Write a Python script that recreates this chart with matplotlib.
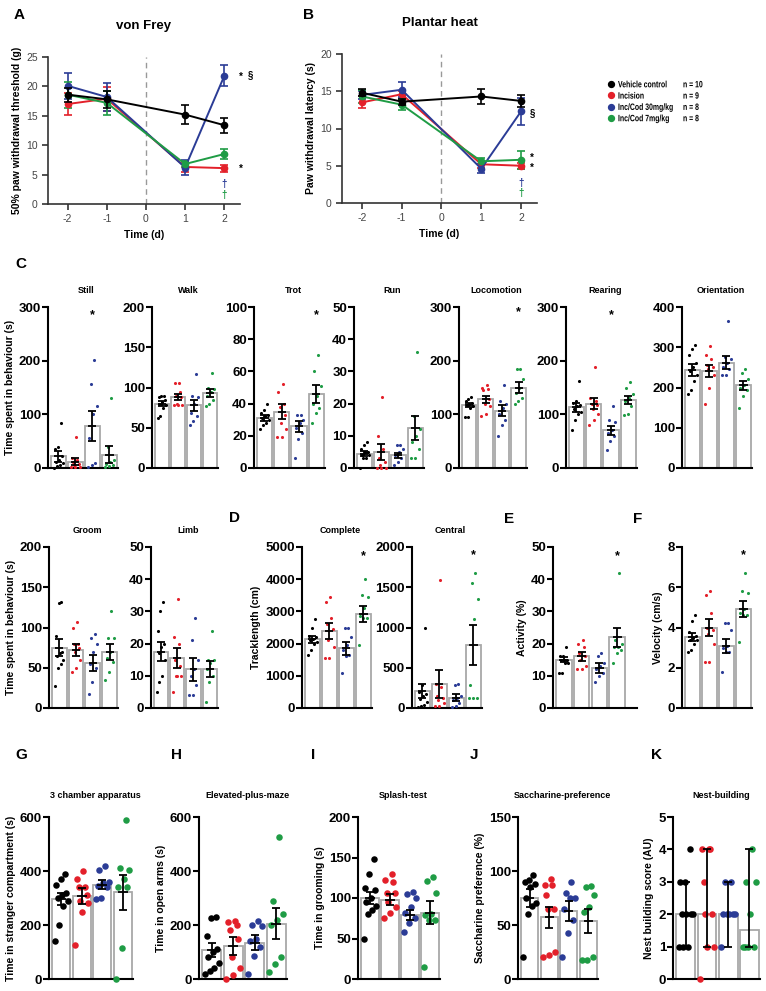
import numpy as np
import matplotlib
matplotlib.use("Agg")
import matplotlib.pyplot as plt
from matplotlib.font_manager import FontProperties
from matplotlib.textpath import TextPath
from matplotlib.patches import PathPatch
from matplotlib.transforms import Affine2D

plt.rcParams['font.family'] = ['Liberation Sans', 'DejaVu Sans']
plt.rcParams['axes.unicode_minus'] = False

W, H = 766, 991

# groups
groups = ['Vehicle control', 'Incision', 'Inc/Cod 30mg/kg', 'Inc/Cod 7mg/kg']
group_n = ['n = 10', 'n = 9', 'n = 8', 'n = 8']
colors = ['#000000', '#e3202a', '#2b3c96', '#1f9c45']

# A / B time courses
days = [-2, -1, 1, 2]
vf_mean = [[18.6, 17.8, 15.2, 13.4], [17.0, 17.9, 6.3, 6.1],
           [20.1, 18.2, 6.2, 21.8], [18.6, 17.2, 6.8, 8.5]]
vf_sem = [[1.2, 1.5, 1.6, 1.3], [1.8, 2.0, 0.8, 0.6],
          [2.2, 2.4, 1.2, 1.8], [2.2, 2.0, 0.5, 0.9]]
ph_mean = [[14.8, 13.6, 14.3, 13.7], [13.5, 14.6, 5.2, 5.0],
           [14.5, 15.2, 4.6, 12.3], [14.3, 13.2, 5.6, 5.8]]
ph_sem = [[0.5, 0.4, 1.0, 0.8], [0.8, 0.5, 0.5, 0.4],
          [0.6, 1.0, 0.6, 1.8], [0.9, 0.7, 0.5, 1.2]]

# C: time spent in behaviour
still_pts = [[83, 40, 35, 22, 15, 12, 10, 5, 3, 0], [57, 18, 15, 12, 8, 5, 2, 2, 2],
             [202, 157, 115, 100, 55, 10, 5, 2], [130, 40, 15, 12, 8, 5, 3, 2]]
still_mean = [22, 12, 79, 25]
still_sem = [10, 7, 28, 16]

walk_pts = [[90, 90, 88, 85, 82, 80, 78, 75, 65, 62], [105, 105, 95, 90, 88, 80, 78, 78, 78],
            [117, 90, 88, 80, 68, 65, 58, 53], [118, 100, 98, 95, 90, 85, 80, 77]]
walk_mean = [80, 88, 78, 93]
walk_sem = [3.5, 4, 7, 5]

trot_pts = [[40, 36, 34, 33, 32, 31, 30, 28, 27, 24], [52, 47, 40, 38, 33, 28, 24, 19, 19],
            [33, 33, 30, 28, 25, 22, 18, 6], [70, 60, 51, 45, 40, 37, 34, 28]]
trot_mean = [31, 35, 26, 46]
trot_sem = [1.8, 4.5, 3.5, 5.5]

run_pts = [[8, 7, 6, 5, 5, 4, 4, 3, 3, 0], [22, 10, 6, 3, 2, 1, 0, 0, 0],
           [7, 7, 6, 5, 4, 3, 2, 1], [36, 16, 12, 10, 8, 6, 3, 3]]
run_mean = [4.5, 5, 4, 12.5]
run_sem = [0.7, 2.5, 0.8, 3.8]

loco_pts = [[132, 128, 125, 122, 120, 118, 115, 112, 95, 95], [150, 148, 155, 145, 128, 120, 115, 100, 97],
            [155, 125, 120, 112, 100, 90, 80, 60], [185, 185, 165, 150, 140, 130, 125, 120]]
loco_mean = [117, 128, 107, 150]
loco_sem = [4, 7, 10, 10]

rear_pts = [[162, 125, 122, 118, 115, 110, 105, 100, 90, 70], [188, 130, 125, 120, 118, 110, 100, 90, 80],
            [115, 90, 85, 70, 65, 60, 50, 33], [160, 150, 138, 130, 125, 115, 100, 98]]
rear_mean = [113, 120, 70, 127]
rear_sem = [8, 10, 8, 8]

orient_pts = [[305, 295, 280, 260, 250, 240, 230, 215, 195, 185], [302, 280, 270, 255, 250, 245, 230, 200, 160],
              [365, 275, 270, 260, 250, 245, 230, 230], [245, 235, 220, 205, 200, 195, 180, 150]]
orient_mean = [243, 240, 262, 205]
orient_sem = [15, 15, 17, 10]

groom_pts = [[132, 130, 90, 70, 68, 65, 60, 55, 50, 27], [107, 100, 80, 80, 75, 70, 60, 50, 45],
             [92, 87, 80, 70, 55, 50, 32, 17], [121, 87, 87, 70, 62, 57, 45, 35]]
groom_mean = [75, 72, 56, 70]
groom_sem = [11, 8, 10, 10]

limb_pts = [[33, 30, 24, 20, 19, 17, 15, 10, 8, 5], [34, 22, 20, 15, 13, 10, 10, 10, 5],
            [28, 21, 15, 12, 10, 7, 4, 4], [24, 15, 15, 14, 12, 10, 8, 2]]
limb_mean = [17.5, 15.5, 12, 12]
limb_sem = [3, 3, 3.5, 2.5]

# D: tracklength
complete_pts = [[2750, 2500, 2250, 2200, 2150, 2100, 2050, 2000, 1800, 1650],
                [3450, 3300, 2800, 2600, 2450, 2100, 1900, 1550, 1550],
                [2500, 2500, 2200, 1950, 1800, 1650, 1600, 1100],
                [4000, 3500, 3450, 3100, 2850, 2800, 2800, 1950]]
complete_mean = [2130, 2390, 1850, 2930]
complete_sem = [120, 250, 200, 250]

central_pts = [[990, 280, 200, 180, 150, 110, 80, 40, 20, 10], [1590, 300, 260, 150, 120, 100, 60, 30, 20],
               [300, 280, 150, 120, 100, 60, 20, 10], [1680, 1550, 1350, 1100, 280, 130, 120, 120]]
central_mean = [210, 300, 130, 780]
central_sem = [90, 170, 40, 250]

# E, F
activity_pts = [[19, 16, 16, 15, 15, 15, 14, 14, 11, 11], [21, 20, 19, 17, 16, 15, 13, 12, 12],
                [17, 16, 14, 13, 12, 11, 10, 8], [42, 21, 20, 19, 19, 18, 17, 14]]
activity_mean = [15, 16, 12.5, 22]
activity_sem = [0.8, 1.5, 1.5, 3]

velocity_pts = [[4.6, 4.3, 3.8, 3.6, 3.5, 3.4, 3.4, 3.2, 2.9, 2.8], [5.8, 5.6, 4.7, 4.0, 3.9, 3.7, 3.2, 2.3, 2.3],
                [4.2, 4.2, 3.9, 3.1, 3.0, 2.8, 2.8, 1.8], [6.7, 5.8, 5.7, 4.9, 4.7, 4.6, 4.6, 3.3]]
velocity_mean = [3.55, 4.0, 3.1, 4.9]
velocity_sem = [0.2, 0.4, 0.35, 0.4]

# G - K
cham_pts = [[390, 370, 350, 320, 310, 300, 290, 270, 200, 140], [400, 370, 340, 340, 310, 290, 280, 250, 125],
            [420, 405, 360, 355, 345, 340, 300, 295], [590, 410, 405, 370, 340, 340, 115, 0]]
cham_mean = [295, 307, 350, 322]
cham_sem = [22, 30, 18, 65]

epm_pts = [[230, 225, 160, 110, 100, 80, 60, 40, 30, 20], [215, 210, 200, 180, 150, 80, 40, 15, 0],
           [215, 200, 195, 150, 140, 120, 85, 20], [525, 290, 240, 220, 200, 80, 55, 25]]
epm_mean = [108, 122, 135, 205]
epm_sem = [25, 32, 28, 58]

splash_pts = [[148, 130, 112, 110, 100, 95, 90, 85, 80, 50], [130, 122, 120, 106, 106, 95, 89, 81, 75],
              [107, 105, 100, 89, 81, 75, 69, 58], [126, 121, 106, 80, 79, 73, 73, 15]]
splash_mean = [100, 98, 79, 82]
splash_sem = [8, 7, 6.5, 14]

sacc_pts = [[96, 92, 90, 88, 85, 75, 70, 68, 60, 20], [93, 87, 87, 78, 65, 65, 25, 22, 20],
            [90, 80, 75, 75, 65, 55, 43, 20], [86, 85, 78, 67, 62, 20, 18, 18]]
sacc_mean = [75, 57, 63, 54]
sacc_sem = [8, 10, 9, 11]

nest_pts = [[4, 3, 3, 2, 2, 2, 2, 1, 1, 1], [4, 4, 4, 3, 2, 2, 1, 1, 0],
            [3, 3, 2, 2, 2, 2, 2, 1], [4, 3, 3, 2, 1, 1, 1, 1]]
nest_median = [2, 2, 2, 1.5]
nest_lo = [1, 1, 1, 1]
nest_hi = [3, 4, 3, 4]


def px(l, t, r, b):
    return [l / W, 1 - b / H, (r - l) / W, (b - t) / H]


def letter(x, y, s):
    fig.text(x / W, 1 - y / H, s, fontsize=11, fontweight='bold', ha='left', va='center')


def offsets(vals, half):
    n = len(vals)
    k = 3 if np.gcd(3, n) == 1 else 4
    slots = np.linspace(-half, half, n)
    order = np.argsort(vals)
    off = np.zeros(n)
    for i, j in enumerate(order):
        off[j] = slots[(i * k) % n]
    return off


def bar_panel(rect, title, pts, mean, sem, ymax, step, ylabel=None, star=None,
              big=False, xmax=3.5, lo=None, hi=None):
    ax = fig.add_axes(px(*rect))
    x = np.arange(4)
    ax.bar(x, mean, width=0.88, facecolor='white', edgecolor='#a8a8a8', linewidth=1.3, zorder=1)
    for i in range(4):
        v = np.array(pts[i], dtype=float)
        off = offsets(v, 0.32 if big else 0.25)
        ax.scatter(x[i] + off, v, s=22 if big else 5, color=colors[i], zorder=3,
                   linewidths=0, clip_on=False)
    if lo is None:
        ax.errorbar(x, mean, yerr=sem, fmt='none', ecolor='k', elinewidth=1.3,
                    capsize=3, capthick=1.3, zorder=4)
        ax.hlines(mean, x - 0.24, x + 0.24, color='k', lw=1.3, zorder=4)
    else:
        yerr = [np.array(mean) - np.array(lo), np.array(hi) - np.array(mean)]
        ax.errorbar(x, mean, yerr=yerr, fmt='none', ecolor='k', elinewidth=1.3,
                    capsize=3, capthick=1.3, zorder=4)
    ax.set_xlim(-0.6, xmax)
    ax.set_ylim(0, ymax)
    ax.set_yticks(np.arange(0, ymax + step / 2, step))
    ax.set_xticks([])
    for s in ['top', 'right']:
        ax.spines[s].set_visible(False)
    for s in ['left', 'bottom']:
        ax.spines[s].set_linewidth(1.5)
    ax.tick_params(axis='y', length=4, width=1.5, labelsize=9.5, pad=1)
    for lab in ax.get_yticklabels():
        lab.set_fontweight('bold')
    ax.set_title(title, fontsize=6.5, fontweight='bold', pad=10 if not big else 14, x=0.55)
    if ylabel:
        ax.set_ylabel(ylabel, fontsize=7.5, fontweight='bold', labelpad=3)
    if star is not None:
        ax.text(star[0], star[1], '*', ha='center', va='center', fontsize=9, fontweight='bold')
    return ax


def time_panel(rect, title, mean, sem, ymax, step, ylabel):
    ax = fig.add_axes(px(*rect))
    ax.axvline(0, color='#999999', lw=1, ls=(0, (4, 3)), zorder=0)
    for i in range(4):
        ax.errorbar(days, mean[i], yerr=sem[i], color=colors[i], marker='o', ms=4.5,
                    lw=1.4, capsize=3, capthick=1.2, elinewidth=1.2, zorder=3 + (i == 0))
    ax.set_xlim(-2.5, 2.4)
    ax.set_ylim(0, ymax)
    ax.set_xticks([-2, -1, 0, 1, 2])
    ax.set_yticks(np.arange(0, ymax + 1, step))
    for s in ['top', 'right']:
        ax.spines[s].set_visible(False)
    for s in ['left', 'bottom']:
        ax.spines[s].set_linewidth(1.2)
        ax.spines[s].set_color('#333333')
    ax.tick_params(length=4, width=1.2, color='#333333', labelsize=7.5, labelcolor='#444444')
    ax.set_xlabel('Time (d)', fontsize=7.5, fontweight='bold', labelpad=4)
    ax.set_ylabel(ylabel, fontsize=7.5, fontweight='bold', labelpad=3)
    ax.set_title(title, fontsize=9.5, fontweight='bold', pad=20)
    return ax


fig = plt.figure(figsize=(W / 100, H / 100), dpi=100)

# A
axA = time_panel((48, 57, 240, 204), 'von Frey', vf_mean, vf_sem, 25, 5,
                 '50% paw withdrawal threshold (g)')
axA.text(2.36, 21.6, '*', fontsize=7, fontweight='bold', va='center', clip_on=False)
axA.text(2.6, 21.9, '§', fontsize=7, fontweight='bold', va='center', clip_on=False)
axA.text(2.36, 5.9, '*', fontsize=7, fontweight='bold', va='center', clip_on=False)
axA.text(2, 3.4, '†', fontsize=7, fontweight='bold', color=colors[2], ha='center', va='center')
axA.text(2, 1.6, '†', fontsize=7, fontweight='bold', color=colors[3], ha='center', va='center')

# B
axB = time_panel((342, 54, 537, 203), 'Plantar heat', ph_mean, ph_sem, 20, 5,
                 'Paw withdrawal latency (s)')
axB.text(2.22, 12.1, '§', fontsize=7, fontweight='bold', va='center', clip_on=False)
axB.text(2.22, 6.1, '*', fontsize=7, fontweight='bold', va='center', clip_on=False)
axB.text(2.22, 4.7, '*', fontsize=7, fontweight='bold', va='center', clip_on=False)
axB.text(2, 2.7, '†', fontsize=7, fontweight='bold', color=colors[2], ha='center', va='center')
axB.text(2, 1.3, '†', fontsize=7, fontweight='bold', color=colors[3], ha='center', va='center')

# legend, with condensed bold text drawn as paths
leg = fig.add_axes(px(600, 75, 766, 127))
leg.set_xlim(600, 766)
leg.set_ylim(127, 75)
leg.axis('off')
fp = FontProperties(family='Liberation Sans', weight='bold')


def narrow_text(x, y, s, size=9.2, squeeze=0.75):
    path = TextPath((0, 0), s, size=size, prop=fp)
    tr = Affine2D().scale(squeeze, -1).translate(x, y + size * 0.36) + leg.transData
    leg.add_patch(PathPatch(path, transform=tr, facecolor='k', edgecolor='none'))


for i, (g, n) in enumerate(zip(groups, group_n)):
    yy = 84 + i * 11.3
    leg.scatter([611], [yy], s=18, color=colors[i])
    narrow_text(618, yy, g)
    narrow_text(683, yy, n)

# C row 1
bar_panel((48, 307, 118, 468), 'Still', still_pts, still_mean, still_sem, 300, 100,
          'Time spent in behaviour (s)', star=(2, 285))
bar_panel((152, 307, 218, 468), 'Walk', walk_pts, walk_mean, walk_sem, 200, 50)
bar_panel((254, 307, 325, 468), 'Trot', trot_pts, trot_mean, trot_sem, 100, 20, star=(3, 95))
bar_panel((354, 307, 424, 468), 'Run', run_pts, run_mean, run_sem, 50, 10)
bar_panel((459, 307, 527, 468), 'Locomotion', loco_pts, loco_mean, loco_sem, 300, 100, star=(3, 290))
bar_panel((566, 307, 637, 468), 'Rearing', rear_pts, rear_mean, rear_sem, 300, 100, star=(2, 285))
bar_panel((682, 307, 752, 468), 'Orientation', orient_pts, orient_mean, orient_sem, 400, 100)

# C row 2, D, E, F
bar_panel((49, 547, 118, 708), 'Groom', groom_pts, groom_mean, groom_sem, 200, 50,
          'Time spent in behaviour (s)')
bar_panel((151, 547, 218, 708), 'Limb', limb_pts, limb_mean, limb_sem, 50, 10)
bar_panel((302, 547, 372, 708), 'Complete', complete_pts, complete_mean, complete_sem, 5000, 1000,
          'Tracklength (cm)', star=(3, 4700))
bar_panel((412, 547, 482, 708), 'Central', central_pts, central_mean, central_sem, 2000, 500,
          star=(3, 1900))
bar_panel((553, 547, 637, 708), '', activity_pts, activity_mean, activity_sem, 50, 10,
          'Activity (%)', star=(3, 47), xmax=4.1)
bar_panel((682, 547, 752, 708), '', velocity_pts, velocity_mean, velocity_sem, 8, 2,
          'Velocity (cm/s)', star=(3, 7.6))

# G - K
bar_panel((49, 817, 133, 979), '3 chamber apparatus', cham_pts, cham_mean, cham_sem, 600, 200,
          'Time in stranger compartment (s)', big=True)
bar_panel((199, 817, 287, 979), 'Elevated-plus-maze', epm_pts, epm_mean, epm_sem, 600, 200,
          'Time in open arms (s)', big=True)
bar_panel((358, 817, 440, 979), 'Splash-test', splash_pts, splash_mean, splash_sem, 200, 50,
          'Time in grooming (s)', big=True)
bar_panel((518, 817, 598, 979), 'Saccharine-preference', sacc_pts, sacc_mean, sacc_sem, 150, 50,
          'Saccharine preference (%)', big=True)
bar_panel((673, 817, 760, 979), 'Nest-building', nest_pts, nest_median, None, 5, 1,
          'Nest building score (AU)', big=True, lo=nest_lo, hi=nest_hi)

for pos, s in [((14, 15), 'A'), ((303, 15), 'B'), ((15, 264), 'C'), ((229, 518), 'D'),
               ((504, 519), 'E'), ((633, 519), 'F'), ((15, 755), 'G'), ((171, 755), 'H'),
               ((311, 755), 'I'), ((470, 755), 'J'), ((651, 755), 'K')]:
    letter(pos[0], pos[1], s)

fig.savefig('out.png', dpi=100)
